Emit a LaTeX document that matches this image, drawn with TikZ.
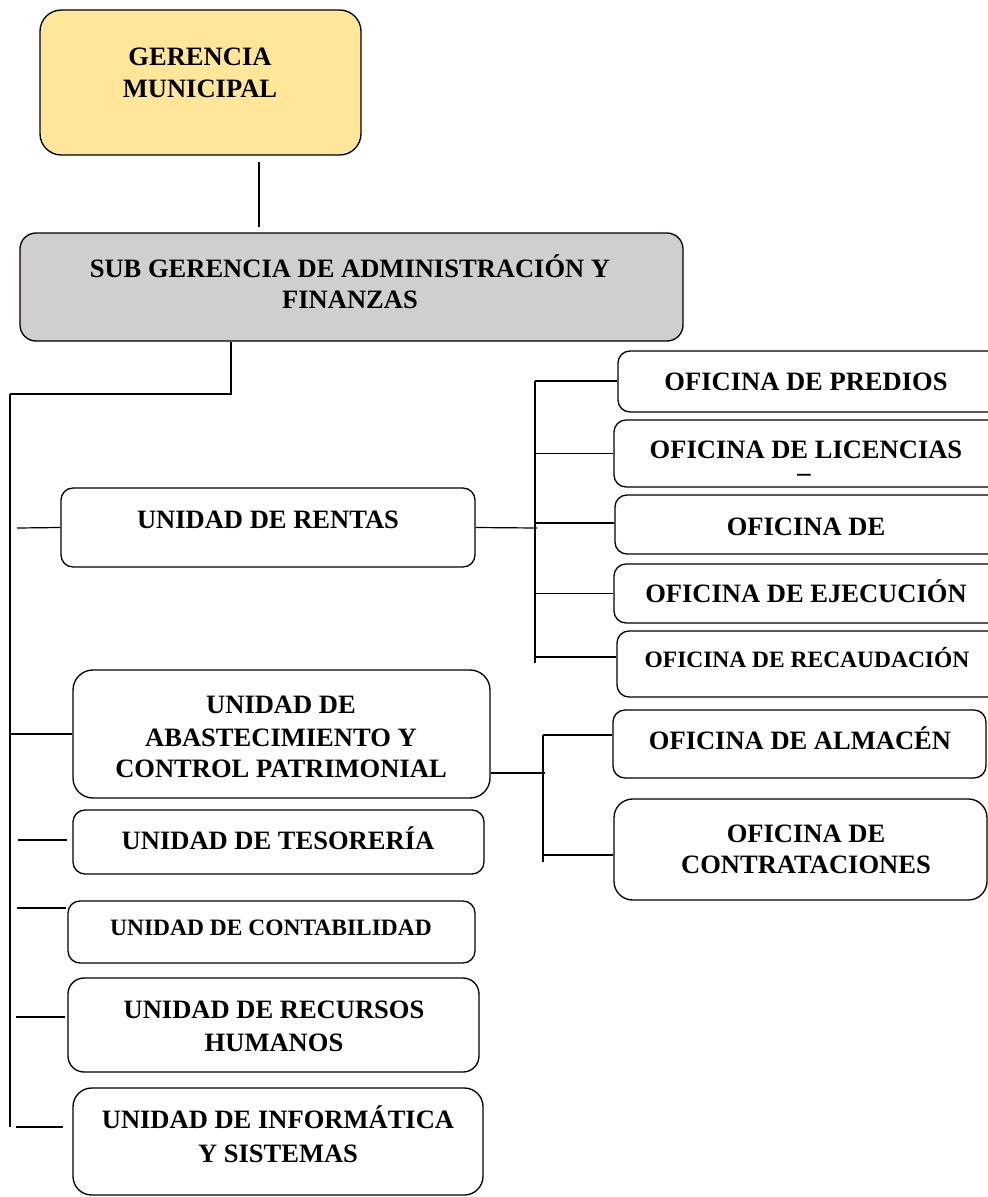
\documentclass[tikz,border=0pt]{standalone}
\usepackage{fontspec}
\setmainfont{Liberation Serif}
\usetikzlibrary{fit}
\definecolor{gerfill}{HTML}{FFE699}
\definecolor{subfill}{HTML}{D0CECE}
\tikzset{
  box/.style={draw=black, line width=1pt, rounded corners=9pt, inner sep=0pt, fit={#1}},
  conn/.style={draw=black, line width=0.9pt},
  txt/.style={anchor=base, inner sep=0pt, font=\bfseries\fontsize{19.9}{24}\selectfont},
  txts/.style={anchor=base, inner sep=0pt, font=\bfseries\fontsize{17.6}{21}\selectfont}
}
\begin{document}
\begin{tikzpicture}[x=0.75pt,y=-0.75pt]
\useasboundingbox (0,0) rectangle (988,1197);
\clip (0,0) rectangle (988,1197);
% boxes
\node[box={(40,10) (361,155)}, fill=gerfill, rounded corners=16pt] (ger) {};
\node[box={(20,233) (683,341)}, fill=subfill, rounded corners=12pt] (sub) {};
\node[box={(618,351) (1010,412)}] (predios) {};
\node[box={(614,420) (1010,487)}] (licencias) {};
\node[box={(615,495) (1010,554)}] (ofde) {};
\node[box={(614,564) (1010,623)}] (ejec) {};
\node[box={(617,631) (1010,697)}] (recaud) {};
\node[box={(61,488) (475,567)}] (rentas) {};
\node[box={(73,670) (490,798)}, rounded corners=15pt] (abast) {};
\node[box={(613,710) (986,778)}] (almacen) {};
\node[box={(614,799) (987,900)}, rounded corners=14pt] (contrat) {};
\node[box={(73,810) (484,874)}] (tesor) {};
\node[box={(68,901) (475,963)}] (contab) {};
\node[box={(68,978) (479,1072)}, rounded corners=12pt] (recur) {};
\node[box={(73,1088) (483,1195)}, rounded corners=14pt] (infor) {};
% texts
\node[txt] (tger1) at (200,65) {GERENCIA};
\node[txt] (tger2) at (200,97) {MUNICIPAL};
\node[txt] (tsub1) at (350,277) {SUB GERENCIA DE ADMINISTRACIÓN Y};
\node[txt] (tsub2) at (350,308) {FINANZAS};
\node[txt] (tpre) at (806,390) {OFICINA DE PREDIOS};
\node[txt] (tlic) at (806,458) {\ooalign{OFICINA DE LICENCIAS\cr\hfil\raisebox{-11pt}{\_}\hspace{3pt}\hfil\cr}};
\node[txt] (tofd) at (806,535) {OFICINA DE};
\node[txt] (teje) at (806,602) {OFICINA DE EJECUCIÓN};
\node[txts] (trec) at (807,667) {OFICINA DE RECAUDACIÓN};
\node[txt] (tren) at (268,528) {UNIDAD DE RENTAS};
\node[txt] (tab1) at (281,713) {UNIDAD DE};
\node[txt] (tab2) at (281,746) {ABASTECIMIENTO Y};
\node[txt] (tab3) at (281,777) {CONTROL PATRIMONIAL};
\node[txt] (talm) at (800,749) {OFICINA DE ALMACÉN};
\node[txt] (tcon1) at (806,842) {OFICINA DE};
\node[txt] (tcon2) at (806,873) {CONTRATACIONES};
\node[txt] (ttes) at (278,849) {UNIDAD DE TESORERÍA};
\node[txts] (tcab) at (271,935) {UNIDAD DE CONTABILIDAD};
\node[txt] (trh1) at (274,1018) {UNIDAD DE RECURSOS};
\node[txt] (trh2) at (274,1051) {HUMANOS};
\node[txt] (tinf1) at (278,1128) {UNIDAD DE INFORMÁTICA};
\node[txt] (tinf2) at (278,1162) {Y SISTEMAS};
% connector points
\coordinate (g1) at (259,162);
\coordinate (s1) at (259,227);
\coordinate (j1) at (231,394);
\coordinate (t0) at (10,394);
\coordinate (tb) at (10,1127);
\coordinate (lr) at (17,528);
\coordinate (lt1) at (18,840);
\coordinate (lt2) at (67,840);
\coordinate (lc1) at (17,908);
\coordinate (lc2) at (66,908);
\coordinate (lh1) at (16,1017);
\coordinate (lh2) at (65,1017);
\coordinate (li1) at (16,1127);
\coordinate (li2) at (63,1127);
\coordinate (r0) at (535,381);
\coordinate (r1) at (535,663);
\coordinate (rr) at (537,528);
\coordinate (ro) at (535,523);
\coordinate (rc) at (535,657);
\coordinate (ar) at (545,773);
\coordinate (a0) at (543,735);
\coordinate (a1) at (543,862);
\coordinate (ac) at (543,855);
% connectors
\draw[conn] (g1) -- (s1);
\draw[conn] (sub.south -| j1) -- (j1) -- (t0);
\draw[conn] (t0) -- (tb);
\draw[conn] (lr) -- (rentas.west);
\draw[conn] (t0 |- abast.west) -- (abast.west);
\draw[conn] (lt1) -- (lt2);
\draw[conn] (lc1) -- (lc2);
\draw[conn] (lh1) -- (lh2);
\draw[conn] (li1) -- (li2);
\draw[conn] (rentas.east) -- (rr);
\draw[conn] (r0) -- (r1);
\draw[conn] (r0) -- (predios.west |- r0);
\draw[conn] (r0 |- licencias.west) -- (licencias.west);
\draw[conn] (ro) -- (ro -| ofde.west);
\draw[conn] (r0 |- ejec.west) -- (ejec.west);
\draw[conn] (rc) -- (rc -| recaud.west);
\draw[conn] (ar -| abast.east) -- (ar);
\draw[conn] (a0) -- (a1);
\draw[conn] (a0) -- (a0 -| almacen.west);
\draw[conn] (ac) -- (ac -| contrat.west);
\end{tikzpicture}
\end{document}
